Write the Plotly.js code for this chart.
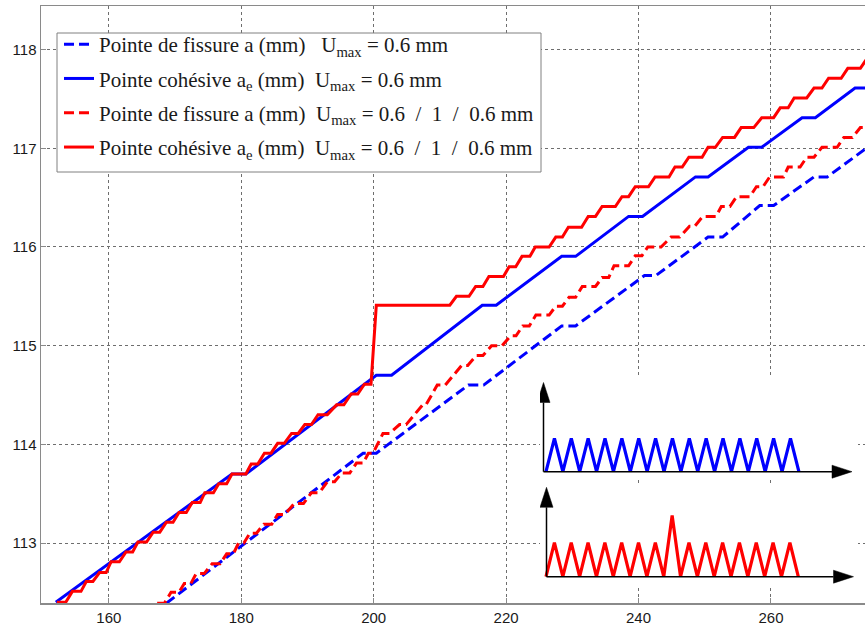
<!DOCTYPE html>
<html>
<head>
<meta charset="utf-8">
<script src="https://cdn.plot.ly/plotly-3.0.1.min.js"></script>
<style>html,body{margin:0;padding:0;background:#fff;}#chart{width:865px;height:627px;}</style>
</head>
<body>
<div id="chart"></div>
<script>
// ---- Main series (x = abscissa, y = position in mm) ----
const blueDashX = [168.7, 198.4, 200.4, 214.3, 216.6, 228.4, 230.5, 240.9, 242.6, 250.5, 252.7, 258.3, 260.4, 266.5, 268.5, 274.3, 275.0];
const blueDashY = [112.39, 113.91, 113.91, 114.60, 114.60, 115.20, 115.20, 115.71, 115.71, 116.10, 116.10, 116.42, 116.42, 116.71, 116.71, 117.00, 117.03];

const blueSolidX = [152.0, 178.6, 180.7, 200.4, 202.7, 216.4, 218.5, 228.4, 230.5, 238.5, 240.6, 248.6, 250.5, 256.6, 258.6, 264.7, 266.7, 272.7, 275.0];
const blueSolidY = [112.40, 113.70, 113.70, 114.70, 114.70, 115.41, 115.41, 115.905, 115.905, 116.31, 116.31, 116.71, 116.71, 117.01, 117.01, 117.31, 117.31, 117.61, 117.61];

const redDashX = [167.3, 168.4, 169.4, 170.6, 171.4, 172.4, 173.2, 174.4, 175.6, 176.8, 177.8, 178.8, 179.6, 180.4, 181.3, 182.3, 183.4, 184.6, 185.5, 186.6, 188.0, 189.4, 190.6, 191.8, 193.0, 194.1, 195.2, 196.4, 197.4, 198.4, 199.2, 199.9, 201.4, 202.4, 203.9, 204.9, 207.4, 207.9, 209.6, 210.8, 213.3, 214.2, 215.5, 216.5, 217.8, 219.4, 220.7, 221.5, 222.5, 223.5, 224.5, 226.5, 227.5, 228.5, 229.5, 230.5, 231.5, 233.5, 234.5, 235.5, 236.3, 238.5, 239.5, 240.5, 241.4, 243.4, 244.9, 246.2, 247.7, 248.5, 249.7, 251.7, 252.5, 253.8, 254.8, 256.8, 257.8, 258.8, 259.8, 261.9, 262.6, 264.4, 265.4, 266.5, 267.7, 270.0, 271.0, 272.3, 273.5, 275.0];
const redDashY = [112.39, 112.39, 112.50, 112.50, 112.59, 112.59, 112.69, 112.69, 112.79, 112.79, 112.89, 112.89, 113.00, 113.00, 113.10, 113.10, 113.19, 113.19, 113.29, 113.29, 113.40, 113.40, 113.51, 113.51, 113.62, 113.62, 113.71, 113.71, 113.81, 113.81, 113.91, 113.91, 114.11, 114.11, 114.20, 114.20, 114.40, 114.40, 114.60, 114.60, 114.80, 114.80, 114.90, 114.90, 115.00, 115.00, 115.10, 115.10, 115.20, 115.20, 115.31, 115.31, 115.40, 115.40, 115.49, 115.49, 115.60, 115.60, 115.69, 115.69, 115.81, 115.81, 115.91, 115.91, 116.00, 116.00, 116.10, 116.10, 116.21, 116.21, 116.31, 116.31, 116.41, 116.41, 116.51, 116.51, 116.61, 116.61, 116.71, 116.71, 116.81, 116.81, 116.91, 116.91, 117.01, 117.01, 117.11, 117.11, 117.21, 117.21];

const redSolidX = [152.15, 153.5, 154.5, 155.8, 156.6, 157.6, 158.6, 159.6, 160.35, 161.6, 162.6, 163.6, 164.4, 165.7, 166.7, 167.7, 168.7, 169.7, 170.6, 171.7, 172.6, 173.8, 174.5, 175.8, 176.6, 177.8, 178.6, 180.7, 181.5, 182.5, 183.5, 184.5, 185.5, 186.5, 187.6, 188.6, 189.6, 190.6, 191.6, 193.0, 194.4, 195.5, 196.6, 197.6, 198.6, 199.6, 200.4, 211.5, 212.5, 214.4, 215.4, 216.5, 217.4, 219.6, 220.45, 221.45, 222.4, 223.6, 224.4, 226.5, 227.5, 228.5, 229.4, 231.4, 232.4, 233.5, 234.5, 236.5, 237.5, 238.5, 239.5, 241.5, 242.5, 244.6, 245.5, 246.6, 247.6, 249.6, 250.5, 251.6, 252.7, 254.5, 255.5, 257.4, 258.6, 260.4, 261.4, 262.6, 263.5, 265.4, 266.5, 267.7, 268.7, 270.6, 271.6, 273.5, 274.3, 275.0];
const redSolidY = [112.40, 112.40, 112.51, 112.51, 112.61, 112.61, 112.70, 112.70, 112.81, 112.81, 112.91, 112.91, 113.01, 113.01, 113.11, 113.11, 113.21, 113.21, 113.31, 113.31, 113.41, 113.41, 113.51, 113.51, 113.60, 113.60, 113.70, 113.70, 113.80, 113.80, 113.91, 113.91, 114.01, 114.01, 114.11, 114.11, 114.20, 114.20, 114.30, 114.30, 114.40, 114.40, 114.51, 114.51, 114.61, 114.61, 115.41, 115.41, 115.50, 115.50, 115.60, 115.60, 115.70, 115.70, 115.80, 115.80, 115.905, 115.905, 116.00, 116.00, 116.10, 116.10, 116.20, 116.20, 116.31, 116.31, 116.41, 116.41, 116.51, 116.51, 116.61, 116.61, 116.71, 116.71, 116.81, 116.81, 116.91, 116.91, 117.01, 117.01, 117.11, 117.11, 117.21, 117.21, 117.31, 117.31, 117.41, 117.41, 117.51, 117.51, 117.61, 117.61, 117.71, 117.71, 117.81, 117.81, 117.89, 117.95];

// ---- Inset loading signals ----
const insetX = [0,1,2,3,4,5,6,7,8,9,10,11,12,13,14,15,16,17,18,19,20,21,22,23,24,25,26,27,28,29,30];
const insetBlueY = [0,1,0,1,0,1,0,1,0,1,0,1,0,1,0,1,0,1,0,1,0,1,0,1,0,1,0,1,0,1,0];
const insetRedY  = [0,1,0,1,0,1,0,1,0,1,0,1,0,1,0,1.8,0,1,0,1,0,1,0,1,0,1,0,1,0,1,0];

// ---- Tick labels ----
const xTicks = [160, 180, 200, 220, 240, 260];
const yTicks = [113, 114, 115, 116, 117, 118];

const NB = '\u00A0';
const legendNames = [
  'Pointe de fissure a (mm)' + NB + NB + NB + 'U<sub>max</sub> = 0.6 mm',
  'Pointe cohésive a<sub>e</sub> (mm)' + NB + NB + 'U<sub>max</sub> = 0.6 mm',
  'Pointe de fissure a (mm)' + NB + NB + 'U<sub>max</sub> = 0.6' + NB + NB + '/' + NB + NB + '1' + NB + NB + '/' + NB + NB + '0.6 mm',
  'Pointe cohésive a<sub>e</sub> (mm)' + NB + NB + 'U<sub>max</sub> = 0.6' + NB + NB + '/' + NB + NB + '1' + NB + NB + '/' + NB + NB + '0.6 mm'
];

const W = 865, H = 627;
const M = {l: 41, r: 0, t: 6, b: 24};
const PW = W - M.l - M.r, PH = H - M.t - M.b;
const px2fx = px => (px - M.l) / PW;
const py2fy = py => (H - M.b - py) / PH;

const BLUE = '#0000ff', RED = '#ff0000';
const dashPat = '10px,5px';

const traces = [
  {x: blueDashX, y: blueDashY, mode: 'lines', name: legendNames[0], legendgroup: 'g1',
   line: {color: BLUE, width: 3, dash: dashPat}},
  {x: blueSolidX, y: blueSolidY, mode: 'lines', name: legendNames[1], legendgroup: 'g2',
   line: {color: BLUE, width: 3}},
  {x: redDashX, y: redDashY, mode: 'lines', name: legendNames[2], legendgroup: 'g3',
   line: {color: RED, width: 3, dash: dashPat}},
  {x: redSolidX, y: redSolidY, mode: 'lines', name: legendNames[3], legendgroup: 'g4',
   line: {color: RED, width: 3}},
  {x: insetX, y: insetBlueY, xaxis: 'x2', yaxis: 'y2', mode: 'lines', showlegend: false,
   line: {color: BLUE, width: 3.2}, hoverinfo: 'skip'},
  {x: insetX, y: insetRedY, xaxis: 'x3', yaxis: 'y3', mode: 'lines', showlegend: false,
   line: {color: RED, width: 3.2}, hoverinfo: 'skip'}
];

function inset(origPx, baseY, unitX, unitY, leftPx, rightPx, topPx, botPx) {
  return {
    xdom: [px2fx(leftPx), px2fx(rightPx)],
    ydom: [py2fy(botPx), py2fy(topPx)],
    xr: [(leftPx - origPx) / unitX, (rightPx - origPx) / unitX],
    yr: [-(botPx - baseY) / unitY, (baseY - topPx) / unitY],
    ux: unitX, uy: unitY
  };
}
const I2 = inset(546, 471.7, 8.43, 33.4, 540, 858, 378, 480);
const I3 = inset(546, 576.7, 8.41, 34.0, 540, 858, 483, 585);

function arrowShapes(ax, ay, I, vx, hTipU, vTipU) {
  const hl = 20, hw = 6.5;
  const sh = [];
  const lx = hl / I.ux, ly = hl / I.uy, wx = hw / I.ux, wy = hw / I.uy;
  sh.push({type: 'line', xref: ax, yref: ay, x0: vx, x1: vx, y0: 0, y1: vTipU - ly,
           line: {color: '#000', width: 1.5}});
  sh.push({type: 'path', xref: ax, yref: ay, fillcolor: '#000', line: {color: '#000', width: 0.5},
           path: `M${vx - wx},${vTipU - ly} L${vx + wx},${vTipU - ly} L${vx},${vTipU} Z`});
  sh.push({type: 'line', xref: ax, yref: ay, x0: vx, x1: hTipU - lx, y0: 0, y1: 0,
           line: {color: '#000', width: 1.5}});
  sh.push({type: 'path', xref: ax, yref: ay, fillcolor: '#000', line: {color: '#000', width: 0.5},
           path: `M${hTipU - lx},${-wy} L${hTipU - lx},${wy} L${hTipU},0 Z`});
  return sh;
}

const legendBox = {type: 'rect', xref: 'paper', yref: 'paper', layer: 'above',
  x0: px2fx(57), x1: px2fx(541), y0: py2fy(172), y1: py2fy(33),
  fillcolor: '#ffffff', line: {color: '#808080', width: 1}};

const shapes = [legendBox].concat(
  arrowShapes('x2', 'y2', I2, (543.5 - 546) / I2.ux, (852 - 546) / I2.ux, (471.7 - 382.5) / I2.uy),
  arrowShapes('x3', 'y3', I3, (546.5 - 546) / I3.ux, (853.5 - 546) / I3.ux, (576.7 - 487.3) / I3.uy)
);

const axisCommon = {
  showline: true, linecolor: '#8a8a8a', linewidth: 1.5,
  ticks: 'inside', ticklen: 5, tickcolor: '#8a8a8a', tickwidth: 1,
  showgrid: true, gridcolor: '#6e6e6e', gridwidth: 1, griddash: 'dot',
  zeroline: false,
  tickfont: {family: 'Liberation Sans, Arial, sans-serif', size: 15, color: '#1a1a1a'}
};

const hiddenAxis = {visible: false, showgrid: false, zeroline: false, fixedrange: true};

const layout = {
  width: W, height: H,
  margin: {l: M.l, r: M.r, t: M.t, b: M.b, pad: 0},
  paper_bgcolor: '#ffffff', plot_bgcolor: '#ffffff',
  showlegend: true,
  legend: {
    x: px2fx(59), y: py2fy(24), xanchor: 'left', yanchor: 'top',
    bgcolor: 'rgba(0,0,0,0)', borderwidth: 0,
    font: {family: 'Liberation Serif, Times New Roman, serif', size: 21, color: '#1a1a1a'},
    tracegroupgap: 4, itemwidth: 30, traceorder: 'grouped'
  },
  xaxis: Object.assign({}, axisCommon, {
    range: [149.76, 274.2], tickvals: xTicks, ticktext: xTicks.map(String), mirror: true
  }),
  yaxis: Object.assign({}, axisCommon, {
    range: [112.392, 118.442], tickvals: yTicks, ticktext: yTicks.map(String), mirror: false
  }),
  xaxis2: Object.assign({}, hiddenAxis, {domain: I2.xdom, range: I2.xr, anchor: 'y2'}),
  yaxis2: Object.assign({}, hiddenAxis, {domain: I2.ydom, range: I2.yr, anchor: 'x2'}),
  xaxis3: Object.assign({}, hiddenAxis, {domain: I3.xdom, range: I3.xr, anchor: 'y3'}),
  yaxis3: Object.assign({}, hiddenAxis, {domain: I3.ydom, range: I3.yr, anchor: 'x3'}),
  shapes: shapes
};

Plotly.newPlot('chart', traces, layout, {displayModeBar: false, staticPlot: true});
</script>
</body>
</html>
